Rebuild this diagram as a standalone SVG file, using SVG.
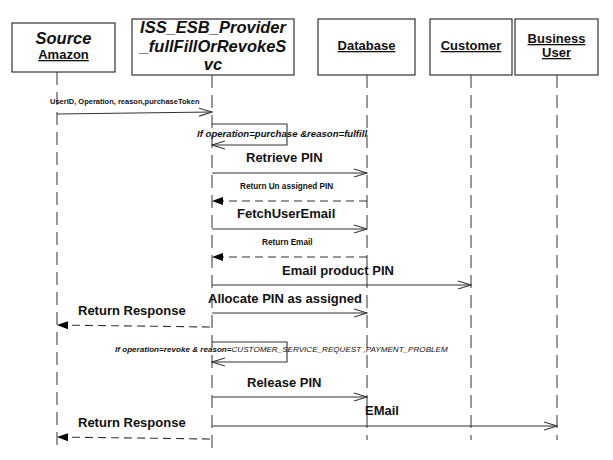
<svg xmlns="http://www.w3.org/2000/svg" width="613" height="460" viewBox="0 0 613 460">
<style>
.box{fill:#fff;stroke:#333;stroke-width:1.2}
.life{stroke:#333;stroke-width:1;stroke-dasharray:13 7;fill:none}
.msg{stroke:#333;stroke-width:1.1;fill:none}
.ret{stroke:#333;stroke-width:1.1;fill:none;stroke-dasharray:8 5}
.t{font-family:"Liberation Sans",Arial,sans-serif;fill:#111}
.hdr{font-size:16.5px;font-weight:bold;font-style:italic}
.nm{font-size:13px;font-weight:bold;text-decoration:underline}
.big{font-size:13px;font-weight:bold}
.sm{font-size:8.2px;font-weight:bold}
.cond{font-size:9.6px;font-weight:bold;font-style:italic}
</style>
<defs>
<marker id="open" markerWidth="14" markerHeight="10" refX="13" refY="5" orient="auto" markerUnits="userSpaceOnUse">
<path d="M0,1 L13,5 L0,9" fill="none" stroke="#333" stroke-width="1.1"/>
</marker>
<marker id="fill" markerWidth="12" markerHeight="10" refX="11" refY="5" orient="auto" markerUnits="userSpaceOnUse">
<path d="M0,1 L11,5 L0,9 Z" fill="#000" stroke="none"/>
</marker>
</defs>
<rect width="613" height="460" fill="#fff"/>
<g id="source">
<rect class="box" x="12" y="23" width="103" height="49"/>
<text class="t hdr" x="63.5" y="44" text-anchor="middle">Source</text>
<text class="t nm" x="63.5" y="59" text-anchor="middle">Amazon</text>
<line class="life" x1="57" y1="72" x2="57" y2="447"/>
</g>
<g id="iss">
<rect class="box" x="132" y="19" width="162" height="56"/>
<text class="t hdr" x="213" y="33" text-anchor="middle">ISS_ESB_Provider</text>
<text class="t hdr" x="213" y="52" text-anchor="middle">_fullFillOrRevokeS</text>
<text class="t hdr" x="213" y="70" text-anchor="middle">vc</text>
<line class="life" x1="212" y1="75" x2="212" y2="450"/>
</g>
<g id="database">
<rect class="box" x="318" y="19" width="97" height="56"/>
<text class="t nm" x="366.5" y="50" text-anchor="middle">Database</text>
<line class="life" x1="367" y1="75" x2="367" y2="440"/>
</g>
<g id="customer">
<rect class="box" x="430" y="19" width="82" height="56"/>
<text class="t nm" x="471" y="50" text-anchor="middle">Customer</text>
<line class="life" x1="471" y1="75" x2="471" y2="440"/>
</g>
<g id="business">
<rect class="box" x="515" y="19" width="83" height="56"/>
<text class="t nm" x="556.5" y="43" text-anchor="middle">Business</text>
<text class="t nm" x="556.5" y="57" text-anchor="middle">User</text>
<line class="life" x1="557" y1="75" x2="557" y2="440"/>
</g>
<g id="connectors">
<text class="t" x="50" y="104" font-size="7.5" font-weight="bold">UserID, Operation, reason,purchaseToken</text>
<line class="msg" x1="57" y1="114" x2="212" y2="112" marker-end="url(#open)"/>

<polyline class="msg" points="212,124 287,124 287,145 212,145" marker-end="url(#open)"/>
<text class="t cond" x="197" y="137">If operation=purchase &amp;reason=fulfill</text>

<text class="t big" x="246" y="162">Retrieve PIN</text>
<line class="msg" x1="212" y1="173" x2="367" y2="173" marker-end="url(#open)"/>

<text class="t sm" x="240" y="189">Return Un assigned PIN</text>
<line class="ret" x1="367" y1="201" x2="212" y2="201" marker-end="url(#fill)"/>

<text class="t big" x="237" y="218">FetchUserEmail</text>
<line class="msg" x1="212" y1="229" x2="367" y2="229" marker-end="url(#open)"/>

<text class="t sm" x="262" y="245">Return Email</text>
<line class="ret" x1="367" y1="257" x2="212" y2="257" marker-end="url(#fill)"/>

<text class="t big" x="282" y="275">Email product PIN</text>
<line class="msg" x1="212" y1="285" x2="471" y2="285" marker-end="url(#open)"/>

<text class="t big" x="208" y="303">Allocate PIN as assigned</text>
<line class="msg" x1="212" y1="313" x2="367" y2="313" marker-end="url(#open)"/>

<text class="t big" x="78" y="315">Return Response</text>
<line class="ret" x1="210" y1="327" x2="57" y2="325" marker-end="url(#fill)"/>

<polyline class="msg" points="212,342 287,342 287,362 212,362" marker-end="url(#open)"/>
<text class="t" x="115" y="352" font-size="8.1"><tspan font-weight="bold" font-style="italic">If operation=revoke &amp; reason=</tspan><tspan font-style="italic">CUSTOMER_SERVICE_REQUEST ,PAYMENT_PROBLEM</tspan></text>

<text class="t big" x="247" y="387">Release PIN</text>
<line class="msg" x1="212" y1="397" x2="367" y2="397" marker-end="url(#open)"/>

<text class="t big" x="365" y="415">EMail</text>
<line class="msg" x1="212" y1="426" x2="557" y2="426" marker-end="url(#open)"/>

<text class="t big" x="78" y="427">Return Response</text>
<line class="ret" x1="210" y1="439" x2="57" y2="437" marker-end="url(#fill)"/>
</g>
</svg>
